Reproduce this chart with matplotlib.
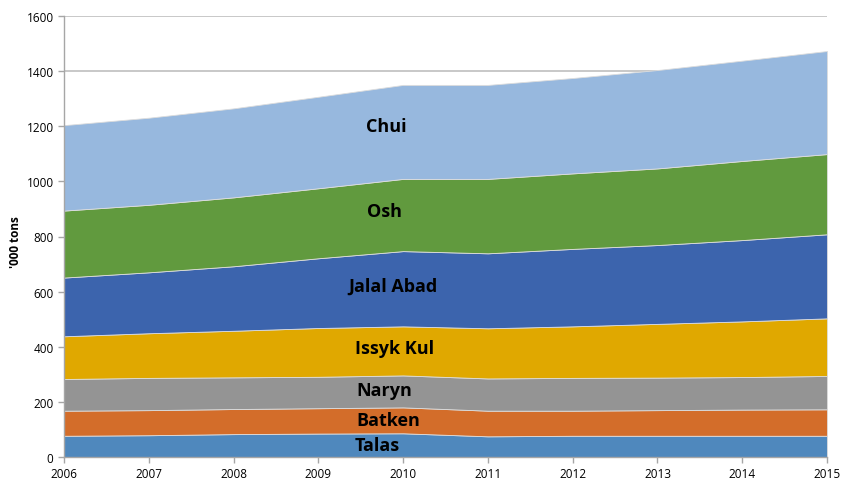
import matplotlib
matplotlib.use("Agg")
import matplotlib.pyplot as plt

years = [2006, 2007, 2008, 2009, 2010, 2011, 2012, 2013, 2014, 2015]
regions = ["Talas", "Batken", "Naryn", "Issyk Kul", "Jalal Abad", "Osh", "Chui"]
talas = [77, 79, 83, 85, 86, 75, 77, 77, 77, 77]
batken = [91, 91, 91, 92, 94, 93, 91, 93, 95, 96]
naryn = [115, 117, 115, 114, 116, 117, 119, 118, 118, 121]
issyk_kul = [155, 162, 169, 177, 178, 182, 187, 195, 202, 209]
jalal_abad = [213, 221, 234, 253, 273, 272, 281, 286, 295, 305]
osh = [243, 245, 250, 254, 262, 270, 274, 278, 287, 291]
chui = [310, 316, 323, 332, 341, 341, 346, 357, 364, 374]
series = [talas, batken, naryn, issyk_kul, jalal_abad, osh, chui]
colors = ["#4F88BD", "#D36D2A", "#949494", "#E0A800", "#3C64AD", "#619A3E", "#97B8DE"]

# label anchor positions (x in years, y in data units)
label_pos = {
    "Chui": (2009.8, 1200), "Osh": (2009.78, 893), "Jalal Abad": (2009.88, 620),
    "Issyk Kul": (2009.9, 395), "Naryn": (2009.78, 243), "Batken": (2009.83, 134),
    "Talas": (2009.7, 44),
}

plt.rcParams['font.family'] = ['Open Sans', 'DejaVu Sans']
fig = plt.figure(figsize=(8.42, 4.81), dpi=100)
ax = fig.add_axes([64/842, 1-458/481, (827-64)/842, (458-17)/481])

ax.set_ylim(0, 1600)
ax.set_xlim(years[0], years[-1])
ax.set_yticks(range(0, 1601, 200))
ax.set_xticks(years)
ax.grid(axis='y', color='#BFBFBF', linewidth=1.2, zorder=0)
ax.set_axisbelow(True)

ax.stackplot(years, *series, colors=colors, edgecolor='#DDDDDD', linewidth=0.6, zorder=2)

for name in regions:
    x, y = label_pos[name]
    ax.text(x, y, name, ha='center', va='center', fontsize=13, fontweight='bold', color='black', zorder=3)

for s in ['top', 'right']:
    ax.spines[s].set_visible(False)
for s in ['left', 'bottom']:
    ax.spines[s].set_color('#A6A6A6')
    ax.spines[s].set_linewidth(1.0)
ax.tick_params(axis='both', colors='#A6A6A6', labelcolor='black', labelsize=8.5, length=4, width=1)
ax.set_ylabel("'000 tons", fontsize=8.5, fontweight='bold', va='center')
ax.yaxis.set_label_coords(-0.064, 0.49)

fig.savefig("out.png", dpi=100)
